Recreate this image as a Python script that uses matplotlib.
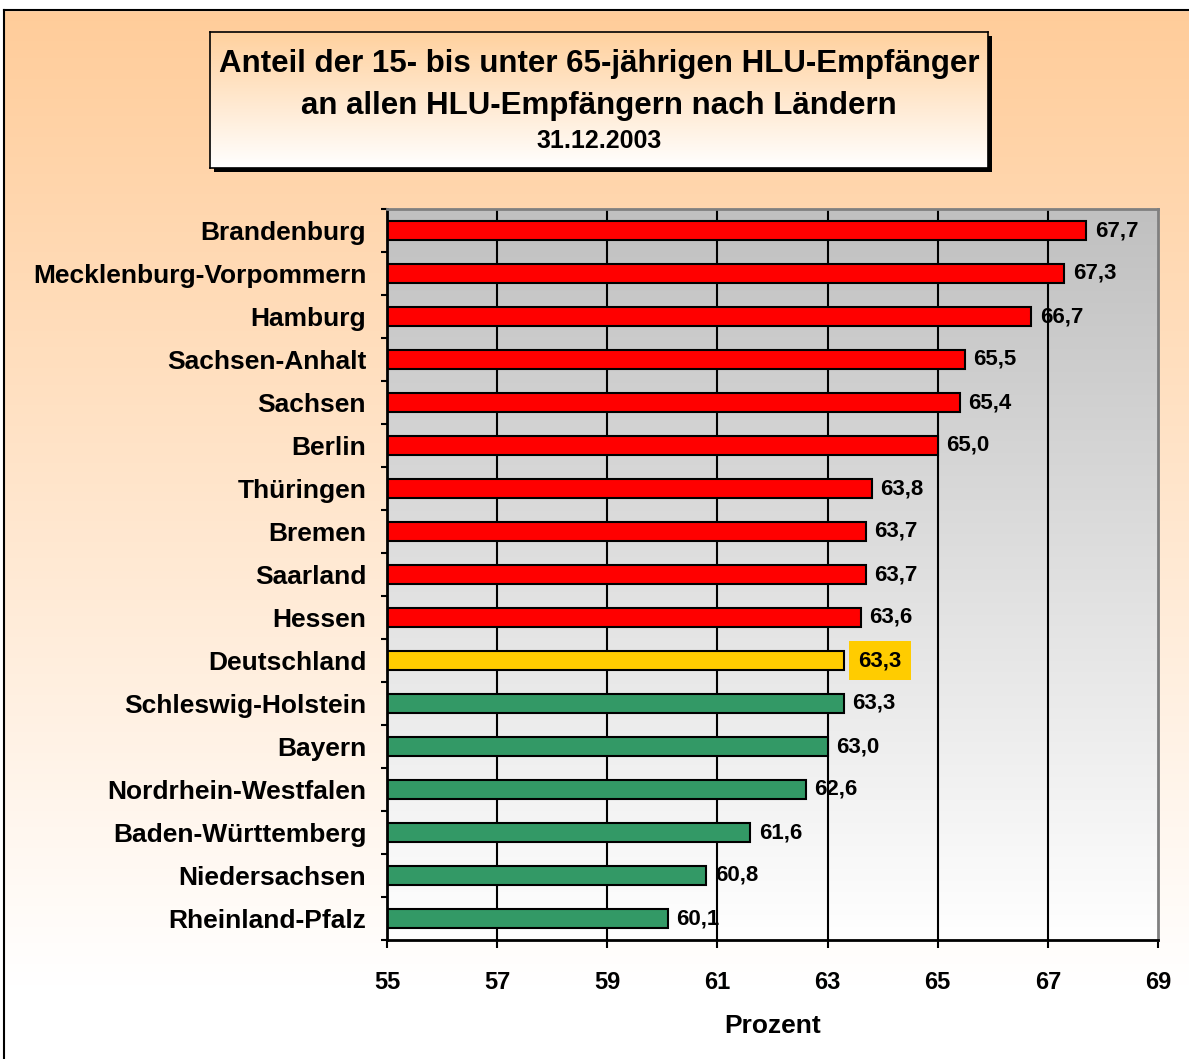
import numpy as np
import matplotlib
matplotlib.use("Agg")
import matplotlib.pyplot as plt
from matplotlib.patches import Rectangle
from matplotlib.lines import Line2D

plt.rcParams['font.family'] = ['Liberation Sans', 'DejaVu Sans']
plt.rcParams['font.weight'] = 'bold'

categories = ["Brandenburg", "Mecklenburg-Vorpommern", "Hamburg", "Sachsen-Anhalt",
              "Sachsen", "Berlin", "Thüringen", "Bremen", "Saarland", "Hessen",
              "Deutschland", "Schleswig-Holstein", "Bayern", "Nordrhein-Westfalen",
              "Baden-Württemberg", "Niedersachsen", "Rheinland-Pfalz"]
values = [67.7, 67.3, 66.7, 65.5, 65.4, 65.0, 63.8, 63.7, 63.7, 63.6,
          63.3, 63.3, 63.0, 62.6, 61.6, 60.8, 60.1]
groups = ["hoch"] * 10 + ["bund"] + ["niedrig"] * 6
group_colors = {"hoch": "#FF0000", "bund": "#FFCC00", "niedrig": "#339966"}
xticks = [55, 57, 59, 61, 63, 65, 67, 69]
title_lines = ["Anteil der 15- bis unter 65-jährigen HLU-Empfänger",
               "an allen HLU-Empfängern nach Ländern"]
subtitle = "31.12.2003"
xlabel = "Prozent"

W, H = 1189, 1059
fig = plt.figure(figsize=(W / 100, H / 100), dpi=100)

def fx(px):
    return px / W

def fy(py):
    return 1 - py / H

# figure background gradient
bg = fig.add_axes([0, 0, 1, 1], zorder=-10)
grad = np.linspace(0, 1, 256)[:, None]
c_top = np.array([1.0, 0.8, 0.6])
c_bot = np.array([1.0, 1.0, 1.0])
t = np.clip(grad / 0.93, 0, 1)
img = c_top[None, None, :] * (1 - t[..., None]) + c_bot[None, None, :] * t[..., None]
img = np.repeat(img, 2, axis=1)
bg.imshow(img, aspect='auto', extent=[0, 1, 0, 1], origin='upper')
bg.add_patch(Rectangle((0, fy(10)), 1, 1, color='white', zorder=2))
bg.add_patch(Rectangle((0, 0), fx(3), 1, color='white', zorder=2))
bg.set_xlim(0, 1)
bg.set_ylim(0, 1)
bg.axis('off')
fig.add_artist(Line2D([fx(4), 1], [fy(10), fy(10)], color='black', lw=1.5))
fig.add_artist(Line2D([fx(4), fx(4)], [fy(10), 0], color='black', lw=1.5))

# title box with shadow
bx0, by0, bx1, by1 = 210, 32, 988, 168
fig.add_artist(Rectangle((fx(bx0 + 4), fy(by1 + 4)), fx(bx1 - bx0), (by1 - by0) / H,
                         facecolor='black', edgecolor='none', zorder=1))
tb = fig.add_axes([fx(bx0), fy(by1), fx(bx1 - bx0), (by1 - by0) / H], zorder=2)
t2 = np.linspace(0, 1, 256)[:, None]
img2 = np.array([1.0, 0.82, 0.62])[None, None, :] * (1 - t2[..., None]) + np.array([1, 1, 1])[None, None, :] * t2[..., None]
img2 = np.repeat(img2, 2, axis=1)
tb.imshow(img2, aspect='auto', extent=[0, 1, 0, 1], origin='upper')
tb.set_xticks([])
tb.set_yticks([])
for s in tb.spines.values():
    s.set_color('black')
    s.set_linewidth(1.2)
cx = fx((bx0 + bx1) / 2)
fig.text(cx, fy(64), title_lines[0], ha='center', va='center', fontsize=22.5, fontweight='bold', zorder=5)
fig.text(cx, fy(106), title_lines[1], ha='center', va='center', fontsize=22.5, fontweight='bold', zorder=5)
fig.text(cx, fy(141), subtitle, ha='center', va='center', fontsize=18, fontweight='bold', zorder=5)

# main axes
ax = fig.add_axes([fx(387), fy(940), fx(1158 - 387), (940 - 209) / H], zorder=3)
n = len(categories)
y = np.arange(n)

t3 = np.linspace(0, 1, 256)[:, None]
img3 = np.array([0.753, 0.753, 0.753])[None, None, :] * (1 - t3[..., None]) + np.array([1, 1, 1])[None, None, :] * t3[..., None]
img3 = np.repeat(img3, 2, axis=1)
ax.imshow(img3, aspect='auto', extent=[55, 69, n - 0.5, -0.5], origin='upper', zorder=0)
ax.set_xlim(55, 69)
ax.set_ylim(n - 0.5, -0.5)

for xv in xticks[1:-1]:
    ax.axvline(xv, color='black', lw=1.5, zorder=1)

cols = [group_colors[g] for g in groups]
ax.barh(y, values, height=0.42, color=cols, edgecolor='black', linewidth=1.5, zorder=2)

for yi, v, g in zip(y, values, groups):
    lbl = f"{v:.1f}".replace('.', ',')
    if g == "bund":
        ax.annotate(lbl, (v, yi), xytext=(10, 0), textcoords='offset points',
                    ha='left', va='center', fontsize=16, fontweight='bold', zorder=5,
                    bbox=dict(boxstyle='square,pad=0.42', facecolor='#FFCC00', edgecolor='none'))
    else:
        ax.annotate(lbl, (v, yi), xytext=(6, 0), textcoords='offset points',
                    ha='left', va='center', fontsize=16, fontweight='bold', zorder=5)

ax.set_yticks(y)
ax.set_yticklabels(categories, fontsize=19, fontweight='bold')
ax.set_yticks(np.arange(-0.5, n, 1), minor=True)
ax.tick_params(axis='y', which='major', length=0, pad=15)
ax.tick_params(axis='y', which='minor', length=4, width=1.5, direction='out', color='black')

ax.set_xticks(xticks)
ax.set_xticklabels([str(v) for v in xticks], fontsize=17, fontweight='bold')
ax.tick_params(axis='x', which='major', length=6, width=1.5, direction='out', pad=16, color='black')
ax.set_xlabel(xlabel, fontsize=19, fontweight='bold', labelpad=15)

for side in ['top', 'right']:
    ax.spines[side].set_color('#808080')
    ax.spines[side].set_linewidth(2)
for side in ['left', 'bottom']:
    ax.spines[side].set_color('black')
    ax.spines[side].set_linewidth(2)

fig.savefig("out.png", dpi=100)
